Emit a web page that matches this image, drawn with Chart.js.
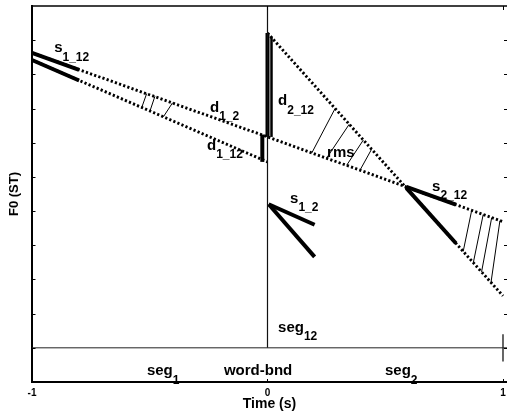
<!DOCTYPE html>
<html>
<head>
<meta charset="utf-8">
<script src="https://cdn.jsdelivr.net/npm/chart.js@4/dist/chart.umd.min.js"></script>
<style>
  html, body { margin: 0; padding: 0; background: #fff; }
  canvas { display: block; }
</style>
</head>
<body>
<canvas id="f0" width="507" height="416"></canvas>
<script>
const FAMILY = '"Liberation Sans", Arial, Helvetica, sans-serif';

// Time ticks (s) and the F0 range (ST)
const timeTicks = [-1, 0, 1];
const f0Ticks = [1, 2, 3, 4, 5, 6, 7, 8, 9, 10];

// Linear fits: over seg12 (t = -1, 0, 1), over seg1 (t = -1, 0), over seg2 (t = 0, 1)
const fit12T = [-1, 0, 1];
const fit12F0 = [9.63, 7.17, 4.69];
const fit1T = [-1, 0];
const fit1F0 = [9.42, 6.44];
const fit2T = [0, 1];
const fit2F0 = [10.21, 2.52];

// Slope pieces: s1_12 at the start of seg1, s2_12 in seg2, s1_2 beside the boundary
const s112T = [-1, -0.8];
const s112Fit12 = [9.63, 9.13];
const s112Fit1 = [9.42, 8.82];
const s212T = [0.59, 0.8];
const s212Fit12 = [5.71, 5.19];
const s212Fit2 = [5.67, 4.06];
const s12T = [0.005, 0.2];
const s12Fit1 = [5.2, 4.6];
const s12Fit2 = [5.2, 3.66];

// Distances at the word boundary: [t, from, to]
const dBars = [
  [-0.022, 6.44, 7.24],   // d1_12
  [0.0, 7.17, 10.21],     // d2_12
  [0.017, 7.17, 10.1]     // d1_2 side bar
];

// Hatch strokes between two fits: [t_a, f0_a, t_b, f0_b]
const hatch1 = [
  [-0.534, 8.03, -0.513, 8.44],
  [-0.499, 7.93, -0.478, 8.36],
  [-0.442, 7.76, -0.403, 8.17]
];
const hatchRms = [
  [0.188, 6.70, 0.287, 8.00],
  [0.251, 6.55, 0.347, 7.54],
  [0.336, 6.34, 0.407, 7.08],
  [0.393, 6.20, 0.442, 6.81]
];
const hatch2 = [
  [0.831, 3.82, 0.867, 5.02],
  [0.874, 3.49, 0.916, 4.90],
  [0.909, 3.22, 0.952, 4.81],
  [0.949, 2.91, 0.987, 4.72]
];

// Segment tier: baseline level, boundary marker span
const tierF0 = 1;
const tierMark = [0.6, 1.4];
const tierEdges = [-1, 1];

// Annotations (main text, subscript, t, F0 of baseline)
const notes = [
  ['s', '1_12', -0.906, 9.65],
  ['d', '1_2', -0.244, 7.90],
  ['d', '1_12', -0.257, 6.79],
  ['d', '2_12', 0.045, 8.10],
  ['rms', '', 0.253, 6.58],
  ['s', '2_12', 0.699, 5.59],
  ['s', '1_2', 0.096, 5.24],
  ['seg', '12', 0.045, 1.47],
  ['seg', '1', -0.512, 0.20],
  ['seg', '2', 0.499, 0.20]
];
const boundaryNote = ['word-bnd', -0.04, 0.20];

// ---------- datasets ----------
const pts = (ts, vs) => ts.map((t, i) => ({ x: t, y: vs[i] }));
const datasets = [];
function seg(data, width, dash, color) {
  datasets.push({
    data, borderColor: color || '#000', borderWidth: width,
    borderDash: dash || [], borderCapStyle: 'butt',
    pointRadius: 0, fill: false, tension: 0, clip: false
  });
}
const DOT = [2.2, 2.2];

// segment tier and word boundary
seg([{ x: -1, y: tierF0 }, { x: 1.017, y: tierF0 }], 1, null, '#222');
tierEdges.forEach(t => seg([{ x: t, y: tierMark[0] }, { x: t, y: tierMark[1] }], 1.2));
seg([{ x: 0, y: tierF0 }, { x: 0, y: 11 }], 1.2, null, '#111');

// dotted fits
seg(pts(fit12T, fit12F0), 2.9, DOT);
seg(pts(fit1T, fit1F0), 2.9, DOT);
seg(pts(fit2T, fit2F0), 2.9, DOT);

// solid slope pieces
seg(pts(s112T, s112Fit12), 4);
seg(pts(s112T, s112Fit1), 4);
seg(pts(s212T, s212Fit12), 4);
seg(pts(s212T, s212Fit2), 4);
seg(pts(s12T, s12Fit1), 4);
seg(pts(s12T, s12Fit2), 4);

// hatching
[hatch1, hatchRms, hatch2].forEach(set =>
  set.forEach(h => seg([{ x: h[0], y: h[1] }, { x: h[2], y: h[3] }], 1)));

// boundary distances
const barWidths = [4, 4, 2.5];
dBars.forEach((b, i) => seg([{ x: b[0], y: b[1] }, { x: b[0], y: b[2] }], barWidths[i]));

// ---------- frame: top edge and inward tick marks ----------
const framePlugin = {
  id: 'frame',
  afterDraw(chart) {
    const { ctx, chartArea: a, scales: { x, y } } = chart;
    ctx.save();
    ctx.strokeStyle = '#000';
    ctx.lineWidth = 1.5;
    ctx.beginPath();
    ctx.moveTo(a.left, a.top);
    ctx.lineTo(a.right, a.top);
    ctx.stroke();
    ctx.lineWidth = 1;
    ctx.beginPath();
    f0Ticks.forEach(v => {
      const py = Math.round(y.getPixelForValue(v)) + 0.5;
      ctx.moveTo(a.left, py); ctx.lineTo(a.left + 3.5, py);
      ctx.moveTo(a.right - 3, py); ctx.lineTo(a.right, py);
    });
    timeTicks.forEach(v => {
      const px = Math.round(x.getPixelForValue(v)) + 0.5;
      ctx.moveTo(px, a.top); ctx.lineTo(px, a.top + 4);
      ctx.moveTo(px, a.bottom); ctx.lineTo(px, a.bottom - 3);
    });
    ctx.stroke();
    ctx.restore();
  }
};

// ---------- annotations with subscripts ----------
const notePlugin = {
  id: 'notes',
  afterDatasetsDraw(chart) {
    const { ctx, scales: { x, y } } = chart;
    ctx.save();
    ctx.fillStyle = '#000';
    ctx.textBaseline = 'alphabetic';
    ctx.textAlign = 'left';
    notes.forEach(([main, sub, t, f]) => {
      const px = x.getPixelForValue(t), py = y.getPixelForValue(f);
      ctx.font = 'bold 15px ' + FAMILY;
      ctx.fillText(main, px, py);
      if (sub) {
        const w = ctx.measureText(main).width;
        ctx.font = 'bold 12px ' + FAMILY;
        ctx.fillText(sub, px + w, py + 8.5);
      }
    });
    ctx.font = 'bold 15px ' + FAMILY;
    ctx.textAlign = 'center';
    ctx.fillText(boundaryNote[0], x.getPixelForValue(boundaryNote[1]), y.getPixelForValue(boundaryNote[2]));
    ctx.restore();
  }
};

new Chart(document.getElementById('f0').getContext('2d'), {
  type: 'line',
  data: { datasets },
  options: {
    responsive: false,
    animation: false,
    devicePixelRatio: 1,
    layout: { padding: { top: 6, left: 0, right: 0, bottom: 0 } },
    plugins: { legend: { display: false }, tooltip: { enabled: false } },
    elements: { point: { radius: 0 } },
    scales: {
      x: {
        type: 'linear', min: -1, max: 1.017,
        afterBuildTicks: s => { s.ticks = timeTicks.map(v => ({ value: v })); },
        afterFit: s => { s.height = 34; s.paddingLeft = 0; s.paddingRight = 0; },
        grid: { display: false, drawTicks: false },
        border: { display: true, color: '#000', width: 2 },
        ticks: {
          color: '#000', padding: 5, maxRotation: 0, autoSkip: false,
          font: { family: FAMILY, size: 10, weight: 'bold' },
          callback: v => String(v)
        },
        title: {
          display: true, text: 'Time (s)', color: '#000',
          font: { family: FAMILY, size: 14, weight: 'bold' },
          padding: { top: 0, bottom: 3 }
        }
      },
      y: {
        type: 'linear', min: 0, max: 11,
        afterFit: s => { s.width = 32; s.paddingTop = 0; s.paddingBottom = 0; },
        grid: { display: false, drawTicks: false },
        border: { display: true, color: '#000', width: 2 },
        ticks: { display: false, stepSize: 1 },
        title: {
          display: true, text: 'F0 (ST)', color: '#000',
          font: { family: FAMILY, size: 13, weight: 'bold' },
          padding: { top: 7, bottom: 0 }
        }
      }
    }
  },
  plugins: [framePlugin, notePlugin]
});
</script>
</body>
</html>
